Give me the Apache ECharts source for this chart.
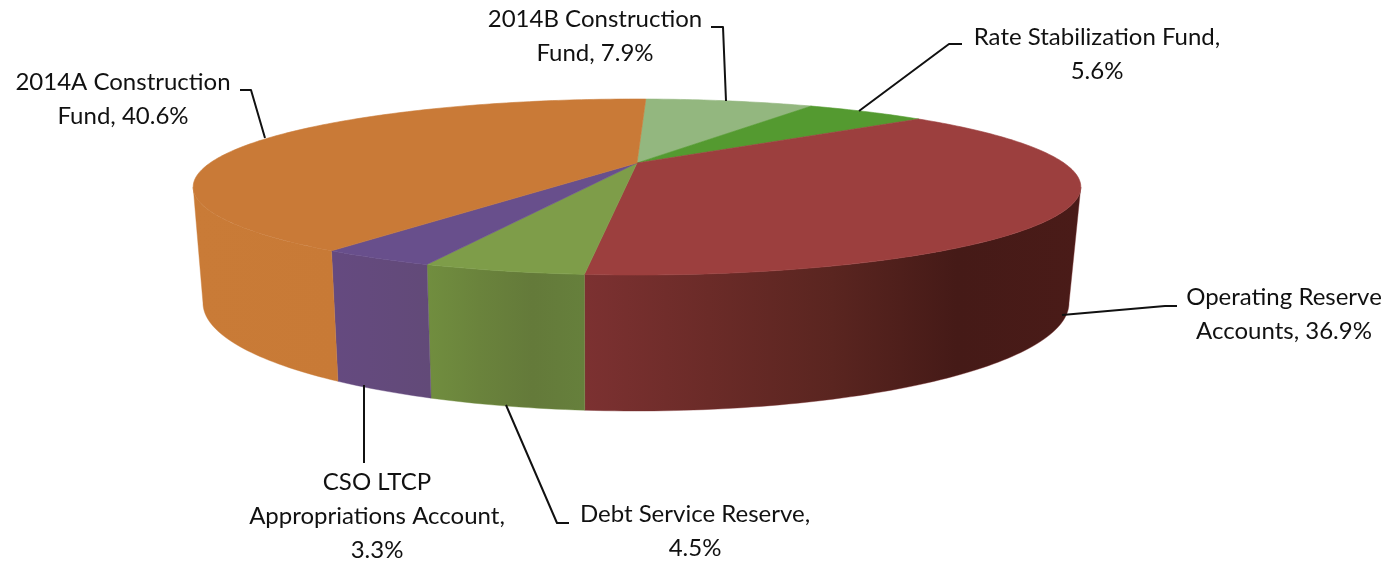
<!DOCTYPE html>
<html>
<head>
<meta charset="utf-8">
<style>html,body{margin:0;padding:0;background:#fff}#chart{width:1397px;height:561px}</style>
<script src="https://cdn.jsdelivr.net/npm/echarts@6/dist/echarts.min.js"></script>
</head>
<body>
<div id="chart"></div>
<script>
// Fund balances, clockwise from the back of the disc.
const categories = ['2014B Construction\nFund', 'Rate Stabilization Fund', 'Operating Reserve\nAccounts', 'Debt Service Reserve', 'CSO LTCP\nAppropriations Account', '2014A Construction\nFund'];
const shares = [7.9, 5.6, 36.9, 4.5, 3.3, 40.6];
const valueOnOwnLine = [false, true, false, true, true, false];

// Slice colours: upper face, then wall gradient from left to right.
const topColors = ['#93B77F', '#549A30', '#9C3F3E', '#7E9D49', '#684F8C', '#C97A37'];
const wallStops = [
  ['#93B77F', '#93B77F'],
  ['#549A30', '#549A30'],
  ['#7C3131', '#6B2B28', '#5A2520', '#451A17', '#4A1B18'],
  ['#718E3F', '#6A833C', '#647A3A', '#66803C'],
  ['#654A80', '#624A78'],
  ['#C97B37', '#C87A36']
];

// Label placement: block centre and leader polyline, in page pixels.
const labelCentres = [[595, 36], [1097, 54], [1284, 314], [695, 531], [377, 516], [123, 99]];
const leaderPaths = [
  [[726, 101], [723, 27], [711, 27]],
  [[859, 111], [949, 44], [962, 44]],
  [[1062, 315], [1165, 306], [1177, 306]],
  [[506, 405], [557, 523], [569, 523]],
  [[364, 385], [364, 463]],
  [[265, 138], [251, 90], [240, 90]]
];

// Perspective disc: upper and lower rims of the cylinder.
const START_DEG = 1.5;
const DEPTH = 0.2727;
const upperRim = { cx: 637, cy: 163, a: 427, b: 81.45 };
const lowerRim = { cx: 636, cy: 273.5, a: 416.6, b: 100 };
const SILHOUETTE = Math.acos(-DEPTH) * 180 / Math.PI;

function project(rim, deg) {
  const t = deg * Math.PI / 180;
  const u = Math.sin(t), v = -Math.cos(t);
  const w = 1 - DEPTH * v;
  return [rim.cx + rim.a * u / w, rim.cy + rim.b * v / w];
}

function arc(rim, from, to) {
  const pts = [];
  const n = Math.max(1, Math.ceil(Math.abs(to - from)));
  for (let i = 0; i <= n; i++) pts.push(project(rim, from + (to - from) * i / n));
  return pts;
}

// Sweep of each slice, taken from the values.
const total = shares.reduce((s, x) => s + x, 0);
function sweepOf(index, api) {
  let from = START_DEG;
  for (let i = 0; i < index; i++) from += shares[i] / total * 360;
  return [from, from + api.value(0) / total * 360];
}

function renderTop(params, api) {
  const [from, to] = sweepOf(params.dataIndex, api);
  const points = [[upperRim.cx, upperRim.cy]].concat(arc(upperRim, from, to));
  const fill = topColors[params.dataIndex];
  return { type: 'polygon', shape: { points }, style: { fill, stroke: fill, lineWidth: 0.6 } };
}

function renderWall(params, api) {
  const [from, to] = sweepOf(params.dataIndex, api);
  const a = Math.max(from, SILHOUETTE), b = Math.min(to, 360 - SILHOUETTE);
  if (b <= a) return null;
  const points = arc(upperRim, a, b).concat(arc(lowerRim, b, a));
  const stops = wallStops[params.dataIndex];
  // The sweep runs right to left across the front, the gradient left to right.
  const fill = new echarts.graphic.LinearGradient(0, 0, 1, 0,
    stops.map((color, i) => ({ offset: i / (stops.length - 1), color })));
  return { type: 'polygon', shape: { points }, style: { fill, stroke: stops[0], lineWidth: 0.4 } };
}

function renderLabel(params, api) {
  const i = params.dataIndex;
  const [x, y] = labelCentres[i];
  const sep = valueOnOwnLine[i] ? '\n' : ' ';
  return {
    type: 'group',
    children: [
      { type: 'polyline', shape: { points: leaderPaths[i] },
        style: { fill: 'none', stroke: '#111', lineWidth: 2, lineJoin: 'round' } },
      { type: 'text', style: {
          text: categories[i] + ',' + sep + api.value(0).toFixed(1) + '%',
          x, y, align: 'center', verticalAlign: 'middle',
          fontFamily: 'Lato', fontSize: 24, lineHeight: 34, fill: '#111' } }
    ]
  };
}

const rows = shares.map(v => [v]);
const chart = echarts.init(document.getElementById('chart'), null, { renderer: 'canvas' });
chart.setOption({
  backgroundColor: '#ffffff',
  animation: false,
  series: [
    { type: 'custom', coordinateSystem: 'none', data: rows, renderItem: renderWall, silent: true, z: 1 },
    { type: 'custom', coordinateSystem: 'none', data: rows, renderItem: renderTop, silent: true, z: 2 },
    { type: 'custom', coordinateSystem: 'none', data: rows, renderItem: renderLabel, silent: true, z: 3 }
  ]
});
</script>
</body>
</html>
